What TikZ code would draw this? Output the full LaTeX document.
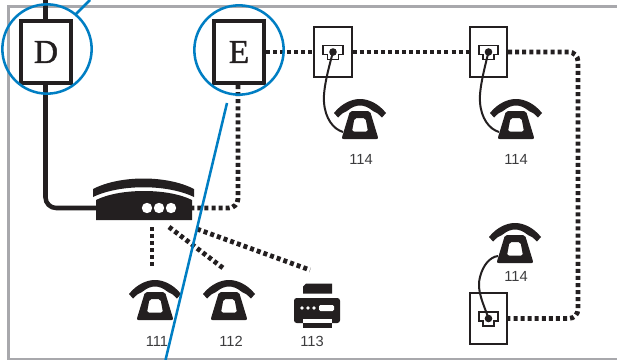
\documentclass[tikz,border=0pt]{standalone}
\usepackage{fontspec}
\setmainfont{Liberation Sans}
\newfontfamily\letterfont[FakeBold=1.2]{Liberation Serif}
\usepackage{xcolor}
\usepackage{tikz}
\usetikzlibrary{positioning, arrows.meta, calc}
\definecolor{inkcolor}{RGB}{35, 31, 32}
\definecolor{ringcolor}{RGB}{0, 126, 195}
\definecolor{framecolor}{RGB}{168, 168, 172}
\definecolor{numcolor}{RGB}{60, 60, 62}

\begin{document}
\begin{tikzpicture}[
  x=0.75pt, y=-0.75pt,
  exchbox/.style={draw=inkcolor, line width=3.4pt, fill=white, minimum width=37.2pt, minimum height=46.2pt, inner sep=0pt, font=\letterfont\fontsize{25}{25}\selectfont, text=inkcolor},
  wallbox/.style={draw=inkcolor, line width=1.4pt, fill=white, minimum width=28pt, minimum height=38pt, inner sep=0pt},
  ring/.style={draw=ringcolor, line width=1.9pt},
  solidline/.style={draw=inkcolor, line width=3.4pt},
  dotline/.style={draw=inkcolor, line width=3.6pt, dash pattern=on 3pt off 2.3pt},
  cordline/.style={draw=inkcolor, line width=1.5pt},
  numlabel/.style={font=\fontsize{11}{11}\selectfont, text=numcolor, inner sep=0pt},
  phone/.pic={
    \fill[inkcolor] (-26,14) .. controls (-18,4) and (-8,0) .. (0,0) .. controls (8,0) and (18,4) .. (26,14)
      -- (22,18.5) .. controls (18,14.5) and (16,13) .. (13,12) .. controls (8,8) and (4,6.5) .. (0,6.5)
      .. controls (-4,6.5) and (-8,8) .. (-13,12) .. controls (-16,13) and (-18,14.5) .. (-22,18.5) -- cycle;
    \fill[inkcolor, even odd rule, rounded corners=1.5pt] (-10,12) -- (10,12) -- (18.5,40) -- (-18.5,40) -- cycle
      (-5.5,19) -- (5.5,19) -- (8,32.5) -- (-8,32.5) -- cycle;
    \coordinate (-cord) at (-17,33);
  },
  jack/.pic={
    \draw[inkcolor, line width=1.4pt, fill=white] (-9.7,-6.5) -- (9.7,-6.5) -- (9.7,2.5) -- (5.5,2.5) -- (5.5,7.5) -- (-5.5,7.5) -- (-5.5,2.5) -- (-9.7,2.5) -- cycle;
    \fill[inkcolor] (0,0) circle (3.8);
    \coordinate (-plug) at (0,0);
  }
]
\useasboundingbox (0,0) rectangle (617,360);

% frame
\draw[framecolor, line width=1.9pt] (617,6.3) -- (8.5,6.3) -- (8.5,358.8) -- (617,358.8);

% exchange lines
\coordinate (upin) at (45.5,0);
\coordinate (edrop) at (238,208);
\coordinate (modemwest) at (96,208);
\coordinate (modemeast) at (192,208);
\coordinate (bend) at (578,52);
\node[exchbox] (D) at (46,52) {D};
\node[exchbox] (E) at (239,52) {E};
\node[wallbox] (boxa) at (333,52) {};
\node[wallbox] (boxb) at (488.5,52) {};
\node[wallbox] (boxc) at (488.5,318.5) {};

\draw[solidline] (upin) -- (D.north -| upin);
\draw[solidline, rounded corners=8pt] (D.south -| upin) -- (upin |- modemwest) -- (modemwest);
\draw[dotline, rounded corners=7pt] (E.south -| edrop) -- (edrop) -- (modemeast);
\draw[dotline] (E.east) -- (boxa.west);
\draw[dotline] (boxa.east) -- (boxb.west);
\draw[dotline, rounded corners=7pt] (boxb.east) -- (bend) -- (bend |- boxc.east) -- (boxc.east);

% modem
\fill[inkcolor] (93,189) .. controls (120,175) and (167,175) .. (194,189) -- (194,197) .. controls (167,184) and (120,184) .. (93,197) -- cycle;
\fill[inkcolor] (96,200) .. controls (120,188) and (168,188) .. (192,200) -- (192,220) -- (96,220) -- cycle;
\fill[white] (147,208) circle (5.2);
\fill[white] (159,208) circle (5.2);
\fill[white] (171,208) circle (5.2);

% branches
\coordinate (stuba) at (152,268);
\coordinate (stubb) at (223,268);
\coordinate (stubc) at (310,270);
\coordinate (starta) at (152,227);
\coordinate (startb) at (169,227);
\coordinate (startc) at (197,229);
\draw[dotline] (starta) -- (stuba);
\draw[dotline] (startb) -- (stubb);
\draw[dotline] (startc) -- (stubc);

% phones
\pic (phonea) at (155,280) {phone};
\pic (phoneb) at (229,280) {phone};
\pic (phonec) at (360,99) {phone};
\pic (phoned) at (516,99) {phone};
\pic (phonee) at (515,223) {phone};
\pic (jacka) at (333,52) {jack};
\pic (jackb) at (488.5,52) {jack};
\pic (jackc) at (488.5,318.5) {jack};
\draw[cordline] (jacka-plug) .. controls (328,70) and (323,90) .. (324,102) .. controls (325,118) and (333,129) .. (phonec-cord);
\draw[cordline] (jackb-plug) .. controls (484,70) and (479,90) .. (480,102) .. controls (481,118) and (489,129) .. (phoned-cord);
\draw[cordline] (jackc-plug) .. controls (484,305) and (476,290) .. (480,277) .. controls (483,265) and (490,257) .. (phonee-cord);

% printer
\fill[inkcolor] (306,283.5) -- (332,283.5) -- (332,293.5) -- (303,293.5) -- (303,286.5) -- cycle;
\fill[inkcolor, rounded corners=2pt] (294,323) -- (294,298) -- (340,298) -- (340,323) -- cycle;
\fill[white] (302,308) circle (1.9);
\fill[white] (308,308) circle (1.9);
\fill[white] (314,308) circle (1.9);
\fill[white, rounded corners=1pt] (319,305) rectangle (334,311);
\fill[white] (303,318.5) rectangle (332,323.5);
\fill[inkcolor] (303,323) rectangle (332,328);

% numbers
\node[numlabel] (num111) at (157,341) {111};
\node[numlabel] (num112) at (231,341) {112};
\node[numlabel] (num113) at (312,341) {113};
\node[numlabel] (numa) at (361,159) {114};
\node[numlabel] (numb) at (516,159) {114};
\node[numlabel] (numc) at (516,276) {114};

% rings
\node[ring, circle, minimum size=67pt, inner sep=0pt] (ringd) at (47,49) {};
\node[ring, circle, minimum size=67pt, inner sep=0pt] (ringe) at (239,50) {};
\coordinate (leada) at (76,14);
\coordinate (leadb) at (90,0);
\coordinate (leadc) at (227,103);
\coordinate (leadd) at (165.5,360);
\draw[ring] (leada) -- (leadb);
\draw[ring] (leadc) -- (leadd);
\end{tikzpicture}
\end{document}
